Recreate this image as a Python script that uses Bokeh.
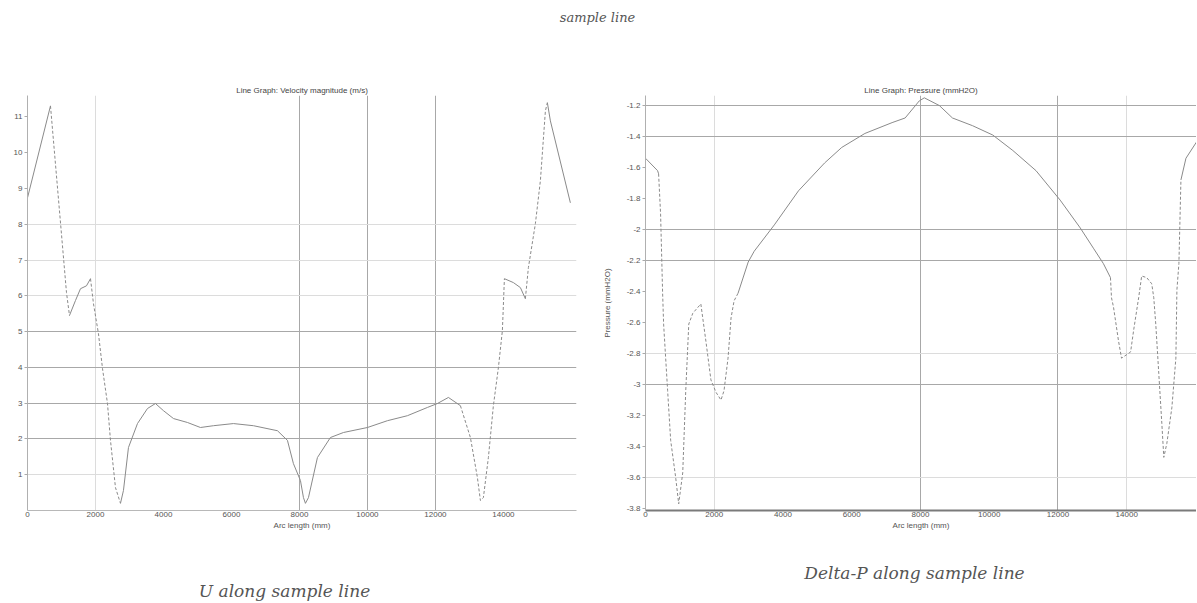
from bokeh.plotting import figure
from bokeh.layouts import column, row
from bokeh.models import Range1d, FixedTicker, Grid, Label, CustomJSTickFormatter
from bokeh.embed import file_html
from bokeh.resources import INLINE

# ---------------- data ----------------
# Velocity magnitude (m/s) along arc length (mm)
U_X = [0, 676, 1147, 1235, 1412, 1559, 1735, 1853, 1941, 2088, 2206, 2353, 2441, 2588,
       2735, 2823, 2970, 3235, 3529, 3764, 4000, 4294, 4706, 5088, 5470, 6059, 6647,
       7353, 7647, 7823, 8029, 8118, 8176, 8265, 8529, 8911, 9294, 10000, 10588, 11176,
       11764, 12058, 12382, 12735, 13029, 13235, 13323, 13411, 13558, 13705, 13852,
       13970, 14029, 14294, 14500, 14646, 14735, 14941, 15088, 15235, 15293, 15382, 15970]
U_Y = [8.74, 11.31, 6.09, 5.45, 5.87, 6.20, 6.28, 6.48, 5.78, 4.94, 3.97, 2.99, 1.96, 0.64,
       0.20, 0.56, 1.76, 2.43, 2.85, 2.99, 2.79, 2.57, 2.46, 2.32, 2.37, 2.43, 2.37,
       2.23, 1.96, 1.31, 0.84, 0.36, 0.20, 0.36, 1.48, 2.04, 2.18, 2.32, 2.51, 2.65,
       2.88, 2.99, 3.16, 2.93, 2.04, 0.92, 0.28, 0.36, 1.48, 2.93, 3.99,
       5.03, 6.48, 6.37, 6.23, 5.92, 6.79, 8.02, 9.22, 11.17, 11.40, 10.89, 8.60]

# Pressure (mmH2O) along arc length (mm)
P_X = [0, 351, 381, 439, 498, 527, 644, 732, 878, 966, 1083, 1171, 1259, 1376, 1610,
       1757, 1903, 2050, 2196, 2284, 2401, 2489, 2577, 2694, 2987, 3162, 3748, 4451,
       5212, 5710, 6383, 7174, 7554, 7964, 8111, 8550, 8930, 9516, 10102, 10687, 11361,
       12063, 12649, 13030, 13322, 13527, 13557, 13615, 13762, 13849, 14113, 14201,
       14347, 14435, 14581, 14728, 14787, 14845, 14933, 15021, 15079, 15167, 15313,
       15430, 15460, 15518, 15577, 15723, 16045]
P_Y = [-1.54, -1.62, -1.64, -1.90, -2.41, -2.61, -3.04, -3.36, -3.60, -3.77, -3.57, -3.04,
       -2.61, -2.54, -2.48, -2.72, -2.97, -3.05, -3.10, -3.04, -2.83, -2.57, -2.46, -2.41,
       -2.21, -2.14, -1.97, -1.75, -1.57, -1.47, -1.38, -1.31, -1.28, -1.17, -1.15, -1.20,
       -1.28, -1.33, -1.39, -1.49, -1.62, -1.81, -1.99, -2.12, -2.22, -2.31, -2.44, -2.50,
       -2.72, -2.83, -2.79, -2.65, -2.44, -2.30, -2.31, -2.35, -2.44, -2.61, -2.93, -3.25,
       -3.47, -3.38, -3.15, -2.83, -2.39, -2.22, -1.68, -1.54, -1.43]

X_TICKS = [0, 2000, 4000, 6000, 8000, 10000, 12000, 14000]
U_TICKS = [1, 2, 3, 4, 5, 6, 7, 8, 9, 10, 11]
P_TICKS = [-1.2, -1.4, -1.6, -1.8, -2.0, -2.2, -2.4, -2.6, -2.8, -3.0, -3.2, -3.4, -3.6, -3.8]

TITLE = "sample line"
U_TITLE = "Line Graph: Velocity magnitude (m/s)"
P_TITLE = "Line Graph: Pressure (mmH2O)"
X_LABEL = "Arc length (mm)"
P_LABEL = "Pressure (mmH2O)"
U_CAPTION = "U along sample line"
P_CAPTION = "Delta-P along sample line"

# ---------------- style (segment index spans drawn dashed) ----------------
U_DASHED = [(1, 3), (7, 14), (43, 52), (55, 60)]
P_DASHED = [(2, 23), (45, 66)]

LINE_COLOR = "#8a8a8a"
TICK_FONT = "Liberation Sans"
CAP_FONT = "DejaVu Serif"


def split_runs(xs, ys, spans):
    def is_dashed(i):
        return any(a <= i < b for a, b in spans)
    solid, dashed = ([], []), ([], [])
    n = len(xs)
    i = 0
    while i < n - 1:
        d = is_dashed(i)
        j = i
        while j < n - 1 and is_dashed(j) == d:
            j += 1
        tgt = dashed if d else solid
        tgt[0].append(list(xs[i:j + 1]))
        tgt[1].append(list(ys[i:j + 1]))
        i = j
    return solid, dashed


def style_axes(p, xaxis_color, xaxis_width):
    for ax in p.axis:
        ax.major_label_text_font = TICK_FONT
        ax.major_label_text_font_size = "8px"
        ax.major_label_text_color = "#555555"
        ax.axis_label_text_font = TICK_FONT
        ax.axis_label_text_font_size = "8px"
        ax.axis_label_text_font_style = "normal"
        ax.axis_label_text_color = "#555555"
        ax.minor_tick_line_color = None
        ax.major_tick_in = 0
        ax.major_tick_out = 3
        ax.major_tick_line_color = "#aaaaaa"
        ax.major_label_standoff = 2
        ax.axis_label_standoff = 1
        ax.axis_line_color = "#b0b0b0"
    p.xaxis.axis_line_color = xaxis_color
    p.xaxis.axis_line_width = xaxis_width
    p.xaxis.major_tick_out = 0
    p.xaxis.major_label_standoff = 1
    p.xaxis.ticker = FixedTicker(ticks=X_TICKS)
    p.xaxis.axis_label = X_LABEL


def style_title(p, text):
    p.title.text = text
    p.title.align = "center"
    p.title.text_font = TICK_FONT
    p.title.text_font_size = "8px"
    p.title.text_font_style = "normal"
    p.title.text_color = "#444444"
    p.title.standoff = 2


def add_grids(p, xs_dark, xs_light, ys_dark, ys_light):
    p.grid.visible = False
    for dim, ticks, col in [(0, xs_dark, "#a8a8a8"), (0, xs_light, "#dcdcdc"),
                            (1, ys_dark, "#a8a8a8"), (1, ys_light, "#dcdcdc")]:
        p.add_layout(Grid(dimension=dim, ticker=FixedTicker(ticks=ticks),
                          grid_line_color=col, grid_line_width=1))


def draw(p, xs, ys, spans):
    solid, dashed = split_runs(xs, ys, spans)
    if solid[0]:
        p.multi_line(xs=solid[0], ys=solid[1], line_color=LINE_COLOR, line_width=1)
    if dashed[0]:
        p.multi_line(xs=dashed[0], ys=dashed[1], line_color=LINE_COLOR, line_width=1,
                     line_dash="3 2")


def text_panel(w, h):
    f = figure(width=w, height=h, x_range=Range1d(0, w), y_range=Range1d(0, h),
               toolbar_location=None, output_backend="svg", x_axis_location=None,
               y_axis_location=None, min_border=0, outline_line_color=None)
    f.grid.visible = False
    return f


def caption(f, x, y, text, size):
    f.add_layout(Label(x=x, y=y, text=text, text_font=CAP_FONT, text_font_style="italic",
                       text_font_size=size, text_color="#555555", text_align="center",
                       text_baseline="middle"))


TOTAL_W = 1196

# ---------------- header ----------------
hdr = text_panel(TOTAL_W, 48)
caption(hdr, 597, 48 - 17, TITLE, "13px")

# ---------------- left: velocity ----------------
pu = figure(width=598, height=487, x_range=Range1d(0, 16150), y_range=Range1d(0, 11.6),
            toolbar_location=None, output_backend="svg", min_border_left=27,
            min_border_right=22, min_border_top=47, min_border_bottom=25,
            outline_line_color=None)
style_axes(pu, "#b8b8b8", 1)
style_title(pu, U_TITLE)
pu.yaxis.ticker = FixedTicker(ticks=U_TICKS)
add_grids(pu, [8000, 10000, 12000], [2000], [2, 3, 4, 5], [1, 6, 7, 8])
draw(pu, U_X, U_Y, U_DASHED)

# ---------------- right: pressure ----------------
pp = figure(width=TOTAL_W - 598, height=487, x_range=Range1d(0, 16030),
            y_range=Range1d(-3.813, -1.135),
            toolbar_location=None, output_backend="svg", min_border_left=47,
            min_border_right=0, min_border_top=47, min_border_bottom=25,
            outline_line_color=None)
style_axes(pp, "#7a7a7a", 2)
style_title(pp, P_TITLE)
pp.yaxis.ticker = FixedTicker(ticks=P_TICKS)
pp.yaxis.formatter = CustomJSTickFormatter(code="return String(Math.round(tick * 10) / 10);")
pp.yaxis.axis_label = P_LABEL
pp.yaxis.axis_label_standoff = 12
add_grids(pp, [8000, 12000], [2000, 14000], [-1.2, -1.4, -2.0, -2.2, -3.0], [-2.8, -3.6])
draw(pp, P_X, P_Y, P_DASHED)

# ---------------- footer ----------------
ftr = text_panel(TOTAL_W, 66)
caption(ftr, 284, 66 - 55, U_CAPTION, "17px")
caption(ftr, 914, 66 - 37, P_CAPTION, "17px")

layout = column(hdr, row(pu, pp, spacing=0), ftr, spacing=0)
open("out.html", "w").write(file_html(layout, INLINE))
